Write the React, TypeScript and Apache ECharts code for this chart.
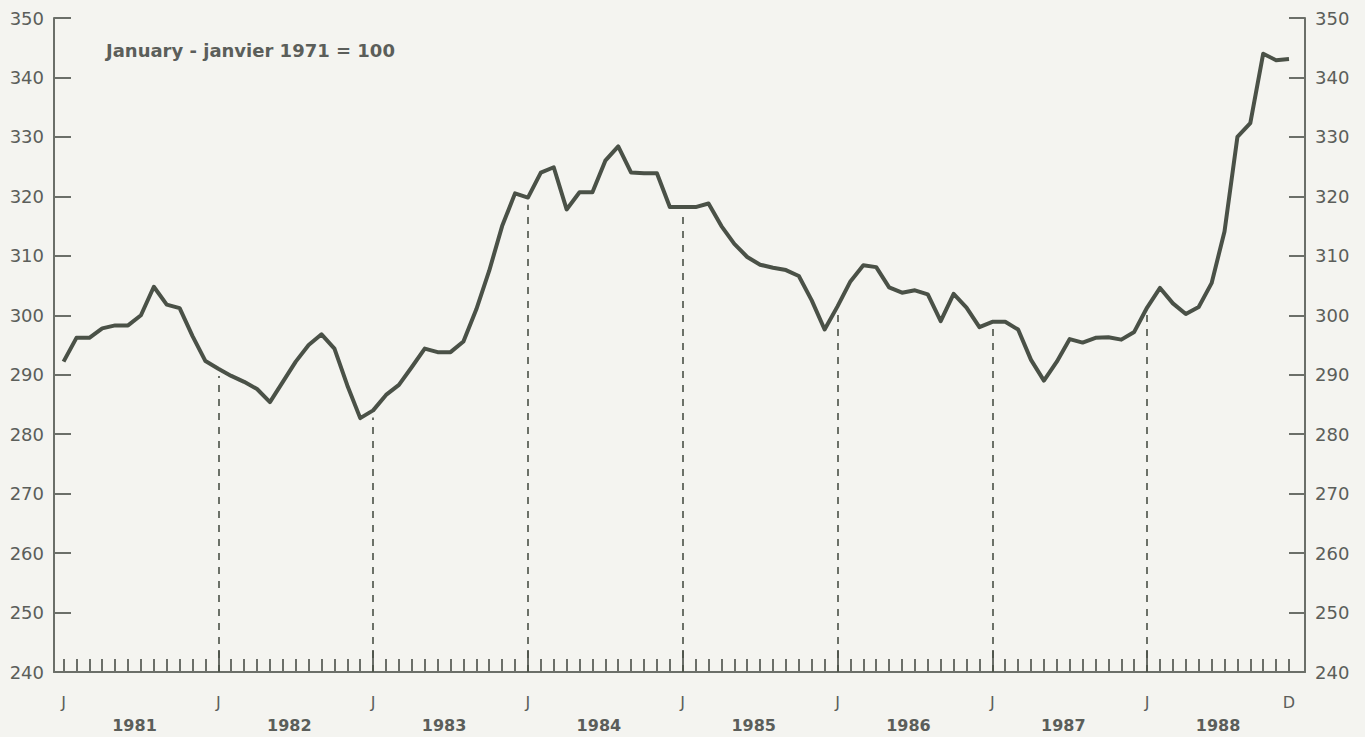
import React, { useEffect, useRef } from "react";
import * as echarts from "echarts";

// Monthly index, January 1981 .. December 1988 (January 1971 = 100)
const values1981 = [292.2, 296.2, 296.2, 297.8, 298.3, 298.3, 300.0, 304.8, 301.8, 301.2, 296.5, 292.3];
const values1982 = [291.0, 289.8, 288.8, 287.6, 285.4, 288.8, 292.2, 295.0, 296.8, 294.4, 288.2, 282.7];
const values1983 = [284.0, 286.6, 288.3, 291.3, 294.4, 293.8, 293.8, 295.6, 301.0, 307.5, 315.0, 320.5];
const values1984 = [319.8, 324.0, 324.9, 317.8, 320.7, 320.7, 326.0, 328.4, 324.0, 323.9, 323.9, 318.2];
const values1985 = [318.2, 318.2, 318.8, 315.0, 312.0, 309.8, 308.5, 308.0, 307.6, 306.6, 302.5, 297.6];
const values1986 = [301.5, 305.7, 308.4, 308.1, 304.7, 303.8, 304.2, 303.5, 299.0, 303.6, 301.3, 298.0];
const values1987 = [298.9, 298.9, 297.6, 292.5, 289.0, 292.2, 296.0, 295.4, 296.2, 296.3, 295.9, 297.2];
const values1988 = [301.3, 304.6, 302.0, 300.2, 301.4, 305.4, 314.1, 330.0, 332.3, 344.0, 342.9, 343.1];

const years = ["1981", "1982", "1983", "1984", "1985", "1986", "1987", "1988"];
const tickLabelTexts = ["J", "J", "J", "J", "J", "J", "J", "J", "D"];
const yTicks = [240, 250, 260, 270, 280, 290, 300, 310, 320, 330, 340, 350];
const subtitle = "January - janvier 1971 = 100";

const allValues = [
  ...values1981, ...values1982, ...values1983, ...values1984,
  ...values1985, ...values1986, ...values1987, ...values1988,
];
const monthIdx = allValues.map((_, i) => i);
const yearStartIdx = years.map((_, k) => k * 12);
const tickLabelIdx = [...yearStartIdx, allValues.length - 1];
const yearMidIdx = years.map((_, k) => k * 12 + 5.5);
const dashedIdx = yearStartIdx.slice(1);

const INK = "#4a5147";
const AXIS = "#6b6f69";
const TEXT = "#5b5e5a";
const FONT = "DejaVu Sans, Verdana, sans-serif";

export default function App() {
  const ref = useRef<HTMLDivElement>(null);

  useEffect(() => {
    document.body.style.margin = "0";
    const chart = echarts.init(ref.current!, null, { renderer: "svg" });
    const xMin = -0.74;
    const xMax = 96.24;
    const yMin = yTicks[0];
    const yMax = yTicks[yTicks.length - 1];

    chart.setOption({
      animation: false,
      backgroundColor: "#f4f4f0",
      title: {
        text: subtitle,
        left: 101,
        top: 36,
        textStyle: { fontFamily: FONT, fontSize: 18, fontWeight: "bold", color: TEXT },
      },
      grid: { left: 54, right: 60, top: 18, bottom: 65 },
      xAxis: [
        {
          type: "value",
          min: xMin,
          max: xMax,
          splitLine: { show: false },
          axisLine: { show: true, onZero: false, lineStyle: { color: AXIS, width: 2 } },
          axisTick: {
            show: true,
            inside: true,
            length: 13,
            customValues: monthIdx,
            lineStyle: { color: AXIS, width: 2 },
          },
          axisLabel: {
            customValues: tickLabelIdx,
            formatter: (v: number) => tickLabelTexts[tickLabelIdx.indexOf(Math.round(v))] ?? "",
            margin: 22,
            color: TEXT,
            fontFamily: FONT,
            fontSize: 16,
          },
        },
        {
          type: "value",
          min: xMin,
          max: xMax,
          position: "bottom",
          splitLine: { show: false },
          axisLine: { show: false, onZero: false },
          axisTick: {
            show: true,
            inside: true,
            length: 22,
            customValues: dashedIdx,
            lineStyle: { color: AXIS, width: 2 },
          },
          axisLabel: {
            customValues: yearMidIdx,
            formatter: (v: number) => years[Math.round((v - 5.5) / 12)] ?? "",
            margin: 45,
            color: TEXT,
            fontFamily: FONT,
            fontSize: 16,
            fontWeight: "bold",
          },
        },
      ],
      yAxis: [
        {
          type: "value",
          min: yMin,
          max: yMax,
          interval: 10,
          position: "left",
          splitLine: { show: false },
          axisLine: { show: true, onZero: false, lineStyle: { color: AXIS, width: 2 } },
          axisTick: { show: true, inside: true, length: 17, lineStyle: { color: AXIS, width: 2 } },
          axisLabel: { margin: 10, color: TEXT, fontFamily: FONT, fontSize: 18 },
        },
        {
          type: "value",
          min: yMin,
          max: yMax,
          interval: 10,
          position: "right",
          splitLine: { show: false },
          axisLine: { show: true, onZero: false, lineStyle: { color: AXIS, width: 2 } },
          axisTick: { show: true, inside: true, length: 16, lineStyle: { color: AXIS, width: 2 } },
          axisLabel: { margin: 10, color: TEXT, fontFamily: FONT, fontSize: 18 },
        },
      ],
      series: [
        {
          type: "line",
          xAxisIndex: 0,
          yAxisIndex: 0,
          data: allValues.map((v, i) => [i, v]),
          symbol: "none",
          lineStyle: { color: INK, width: 4, join: "round" },
          markLine: {
            silent: true,
            symbol: ["none", "none"],
            label: { show: false },
            lineStyle: { color: INK, width: 1.6, type: [7, 7] },
            data: dashedIdx.map((i) => [
              { coord: [i, yMin] },
              { coord: [i, allValues[i] - 1.2] },
            ]),
          },
        },
      ],
    });
    return () => chart.dispose();
  }, []);

  return <div ref={ref} style={{ width: 1365, height: 737 }} />;
}
